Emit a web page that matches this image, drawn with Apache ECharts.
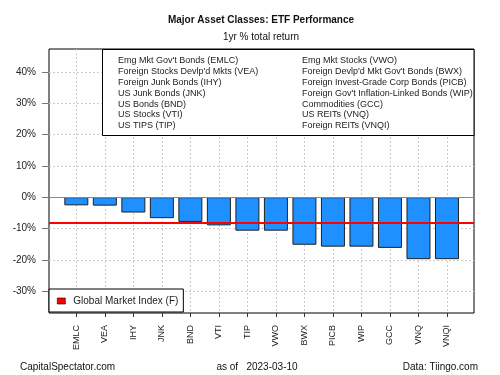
<!DOCTYPE html>
<html>
<head>
<meta charset="utf-8">
<script src="https://cdn.jsdelivr.net/npm/echarts@6/dist/echarts.min.js"></script>
<style>
  html, body { margin: 0; padding: 0; background: #fff; }
  #chart { width: 500px; height: 375px; }
</style>
</head>
<body>
<div id="chart"></div>
<script>
  // tickers, left to right
  var tickers = ['EMLC', 'VEA', 'IHY', 'JNK', 'BND', 'VTI', 'TIP', 'VWO', 'BWX', 'PICB', 'WIP', 'GCC', 'VNQ', 'VNQI'];
  // 1yr % total return
  var returns = [-2.6, -2.7, -4.9, -6.7, -7.9, -9.0, -10.7, -10.7, -15.2, -15.8, -15.8, -16.2, -19.8, -19.8];
  var gmiName = 'Global Market Index (F)';
  var gmiReturn = -8.2;
  var yTicks = [-30, -20, -10, 0, 10, 20, 30, 40];
  var legendLeft = ["Emg Mkt Gov't Bonds (EMLC)", "Foreign Stocks Devlp'd Mkts (VEA)", 'Foreign Junk Bonds (IHY)',
    'US Junk Bonds (JNK)', 'US Bonds (BND)', 'US Stocks (VTI)', 'US TIPS (TIP)'];
  var legendRight = ['Emg Mkt Stocks (VWO)', "Foreign Devlp'd Mkt Gov't Bonds (BWX)", 'Foreign Invest-Grade Corp Bonds (PICB)',
    "Foreign Gov't Inflation-Linked Bonds (WIP)", 'Commodities (GCC)', 'US REITs (VNQ)', 'Foreign REITs (VNQI)'];

  var FONT = '"Liberation Sans", Arial, sans-serif';
  var chart = echarts.init(document.getElementById('chart'), null, { renderer: 'canvas' });

  var xIdx = tickers.map(function (t, i) { return i; });
  var barData = returns.map(function (v, i) { return [i, v]; });

  // legend box text (top right of the plot)
  var boxTexts = [];
  legendLeft.forEach(function (t, i) {
    boxTexts.push({ type: 'text', x: 118, y: 60.7 + i * 10.85, z: 12,
      style: { text: t, font: '9px ' + FONT, fill: '#222', textAlign: 'left', textVerticalAlign: 'middle' } });
  });
  legendRight.forEach(function (t, i) {
    boxTexts.push({ type: 'text', x: 302, y: 60.7 + i * 10.85, z: 12,
      style: { text: t, font: '9px ' + FONT, fill: '#222', textAlign: 'left', textVerticalAlign: 'middle' } });
  });

  var graphics = [
    { type: 'text', x: 261, y: 20, style: { text: 'Major Asset Classes: ETF Performance', font: 'bold 10px ' + FONT,
      fill: '#111', textAlign: 'center', textVerticalAlign: 'middle' } },
    { type: 'text', x: 261, y: 37, style: { text: '1yr % total return', font: '10px ' + FONT,
      fill: '#111', textAlign: 'center', textVerticalAlign: 'middle' } },
    { type: 'rect', shape: { x: 102.5, y: 49.5, width: 371.5, height: 86 }, z: 10,
      style: { fill: '#fff', stroke: '#000', lineWidth: 1 } },
    { type: 'text', x: 20, y: 367, style: { text: 'CapitalSpectator.com', font: '10px ' + FONT,
      fill: '#111', textAlign: 'left', textVerticalAlign: 'middle' } },
    { type: 'text', x: 257, y: 367, style: { text: 'as of   2023-03-10', font: '10px ' + FONT,
      fill: '#111', textAlign: 'center', textVerticalAlign: 'middle' } },
    { type: 'text', x: 478, y: 367, style: { text: 'Data: Tiingo.com', font: '10px ' + FONT,
      fill: '#111', textAlign: 'right', textVerticalAlign: 'middle' } }
  ].concat(boxTexts);

  chart.setOption({
    animation: false,
    backgroundColor: '#fff',
    textStyle: { fontFamily: FONT },
    grid: {
      left: 49, right: 26, top: 49, bottom: 62,
      show: true, borderColor: '#000', borderWidth: 1, backgroundColor: 'transparent'
    },
    legend: {
      left: 49, top: 289,
      data: [{ name: gmiName, icon: 'rect', itemStyle: { color: '#ff0000', borderColor: '#000', borderWidth: 0.6 } }],
      itemWidth: 8, itemHeight: 6,
      padding: [7, 5, 6, 8],
      borderColor: '#000', borderWidth: 1, backgroundColor: '#fff',
      textStyle: { fontSize: 10, color: '#222', fontFamily: FONT, padding: [0, 0, 0, 3] },
      selectedMode: false
    },
    xAxis: {
      type: 'value',
      min: -0.958, max: 13.947,
      axisLine: { show: false, onZero: false },
      axisTick: { show: true, customValues: xIdx, length: 4, lineStyle: { color: '#333' } },
      axisLabel: {
        customValues: xIdx, rotate: 90, margin: 12, fontSize: 9, color: '#222',
        formatter: function (v) { return tickers[Math.round(v)]; }
      },
      splitLine: { show: true, lineStyle: { color: '#ccc', type: [2, 2] } }
    },
    yAxis: {
      type: 'value',
      min: -37.0, max: 47.35,
      axisLine: { show: false, onZero: false },
      axisTick: { show: true, customValues: yTicks, length: 7, lineStyle: { color: '#777' } },
      axisLabel: {
        customValues: yTicks, margin: 13, fontSize: 10, color: '#222',
        formatter: function (v) { return v + '%'; }
      },
      splitLine: { show: true, lineStyle: { color: '#ccc', type: [2, 2] } }
    },
    series: [{
      name: '1yr return',
      type: 'bar',
      barWidth: 24,
      itemStyle: { color: '#1E90FF', borderColor: '#222', borderWidth: 1 },
      data: barData,
      markLine: {
        silent: true, symbol: 'none', label: { show: false },
        lineStyle: { color: '#888', type: 'solid', width: 1 },
        data: [{ yAxis: 0 }]
      }
    }, {
      name: gmiName,
      type: 'line',
      data: [],
      itemStyle: { color: '#ff0000' },
      markLine: {
        silent: true, symbol: 'none', label: { show: false },
        lineStyle: { color: '#ff0000', type: 'solid', width: 2 },
        data: [{ yAxis: gmiReturn }]
      }
    }],
    graphic: graphics
  });
</script>
</body>
</html>
